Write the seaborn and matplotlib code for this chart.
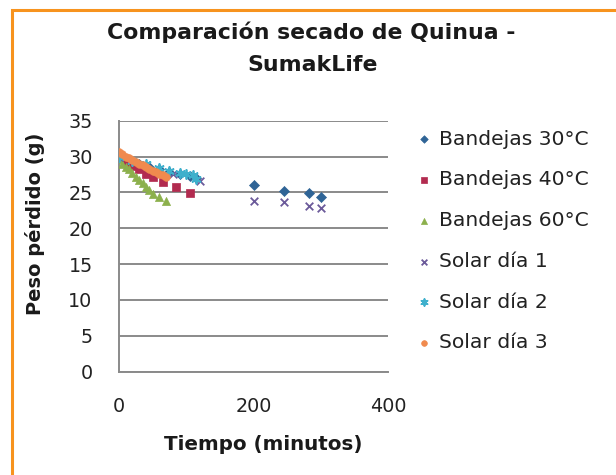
import matplotlib
matplotlib.use("Agg")
import matplotlib.pyplot as plt
import seaborn as sns
import pandas as pd
from matplotlib.patches import Rectangle

# ---- data ----
series_names = ["Bandejas 30°C", "Bandejas 40°C", "Bandejas 60°C",
                "Solar día 1", "Solar día 2", "Solar día 3"]

t_b30 = [0, 15, 30, 45, 60, 75, 90, 105, 115, 200, 245, 282, 300]
v_b30 = [30.0, 29.5, 29.0, 28.6, 28.2, 27.9, 27.6, 27.3, 27.0, 26.1, 25.2, 24.9, 24.3]

t_b40 = [0, 10, 20, 30, 40, 50, 65, 85, 105]
v_b40 = [30.0, 29.3, 28.7, 28.2, 27.6, 27.2, 26.4, 25.8, 24.9]

t_b60 = [0, 5, 10, 15, 20, 25, 30, 35, 40, 45, 50, 60, 70]
v_b60 = [29.6, 29.0, 28.6, 28.2, 27.7, 27.2, 26.8, 26.3, 25.8, 25.3, 24.8, 24.3, 23.8]

t_s1 = [0, 40, 80, 120, 200, 245, 282, 300]
v_s1 = [30.0, 28.8, 27.6, 26.6, 23.8, 23.6, 23.1, 22.8]

t_s2 = [0, 20, 40, 60, 75, 90, 100, 110, 115]
v_s2 = [30.0, 29.4, 28.9, 28.4, 28.0, 27.7, 27.6, 27.4, 26.9]

t_s3 = [0, 5, 10, 15, 20, 25, 30, 35, 40, 45, 50, 55, 60, 65, 70]
v_s3 = [30.6, 30.3, 30.0, 29.8, 29.5, 29.3, 29.0, 28.8, 28.5, 28.3, 28.0, 27.8, 27.6, 27.4, 27.2]

y_ticks = [0, 5, 10, 15, 20, 25, 30, 35]
x_ticks = [0, 200, 400]

title_l1 = "Comparación secado de Quinua -"
title_l2 = "SumakLife"
x_label = "Tiempo (minutos)"
y_label = "Peso pérdido (g)"

# ---- build long-form table ----
all_t = [t_b30, t_b40, t_b60, t_s1, t_s2, t_s3]
all_v = [v_b30, v_b40, v_b60, v_s1, v_s2, v_s3]
rows = []
for name, ts, vs in zip(series_names, all_t, all_v):
    for t, v in zip(ts, vs):
        rows.append({"Tiempo": t, "Peso": v, "Serie": name})
df = pd.DataFrame(rows)

colors = ["#2f6496", "#b22b4f", "#8cb04c", "#6b5a9a", "#3fb0cc", "#f08a4e"]
marker_list = ["D", "s", "^", "x", (6, 2, 0), "o"]
sizes = [26, 30, 34, 30, 42, 30]

sns.set_theme(style="white")
plt.rcParams["font.family"] = ["DejaVu Sans"]

W, H = 616, 475
fig = plt.figure(figsize=(W / 100, H / 100), dpi=100)
fig.patch.set_facecolor("white")

ax_left, ax_right, ax_top, ax_bot = 119, 388, 120.7, 371.7
ax = fig.add_axes([ax_left / W, 1 - ax_bot / H, (ax_right - ax_left) / W, (ax_bot - ax_top) / H])

for name, col, mk, sz in zip(series_names, colors, marker_list, sizes):
    sub = df[df["Serie"] == name]
    filled = mk not in ("x", (6, 2, 0))
    kw = dict(edgecolor=col, linewidth=0.5) if filled else dict(linewidth=1.3)
    sns.scatterplot(data=sub, x="Tiempo", y="Peso", color=col, marker=mk, s=sz,
                    ax=ax, label=name, zorder=3, **kw)

ax.set_xlim(0, 400)
ax.set_ylim(0, 35)
ax.set_xticks(x_ticks)
ax.set_yticks(y_ticks)
ax.set_xlabel("")
ax.set_ylabel("")
ax.grid(axis="y", color="#8a8a8a", linewidth=1.4)
ax.grid(axis="x", visible=False)
ax.set_axisbelow(True)
for side in ["top", "right"]:
    ax.spines[side].set_visible(False)
for side in ["left", "bottom"]:
    ax.spines[side].set_color("#8a8a8a")
    ax.spines[side].set_linewidth(1.4)
ax.tick_params(axis="y", length=0, pad=19, labelsize=13.8, labelcolor="#222222")
ax.tick_params(axis="x", length=0, pad=18, labelsize=13.8, labelcolor="#222222")

leg = ax.legend(loc="center left",
                bbox_to_anchor=(417 / W, 1 - 241 / H),
                bbox_transform=fig.transFigure,
                frameon=False, title=None, fontsize=14.6,
                handlelength=0.65, handletextpad=0.45, labelspacing=1.07,
                borderpad=0, borderaxespad=0, markerscale=0.75)
for txt in leg.get_texts():
    txt.set_color("#222222")

fig.text(311 / W, 1 - 32 / H, title_l1, ha="center", va="center",
         fontsize=15.8, fontweight="bold", color="#1a1a1a")
fig.text(313 / W, 1 - 65 / H, title_l2, ha="center", va="center",
         fontsize=15.8, fontweight="bold", color="#1a1a1a")
fig.text(263 / W, 1 - 445 / H, x_label, ha="center", va="center",
         fontsize=14.3, fontweight="bold", color="#1a1a1a")
fig.text(35 / W, 1 - 224 / H, y_label, ha="center", va="center", rotation=90,
         fontsize=14, fontweight="bold", color="#1a1a1a")

# orange chart border (left and top visible)
fig.patches.append(Rectangle((12 / W, -0.05), 1.2, 1 - 10 / H + 0.05,
                             transform=fig.transFigure, fill=False,
                             edgecolor="#f7931e", linewidth=2.2))

fig.savefig("out.png", dpi=100)
